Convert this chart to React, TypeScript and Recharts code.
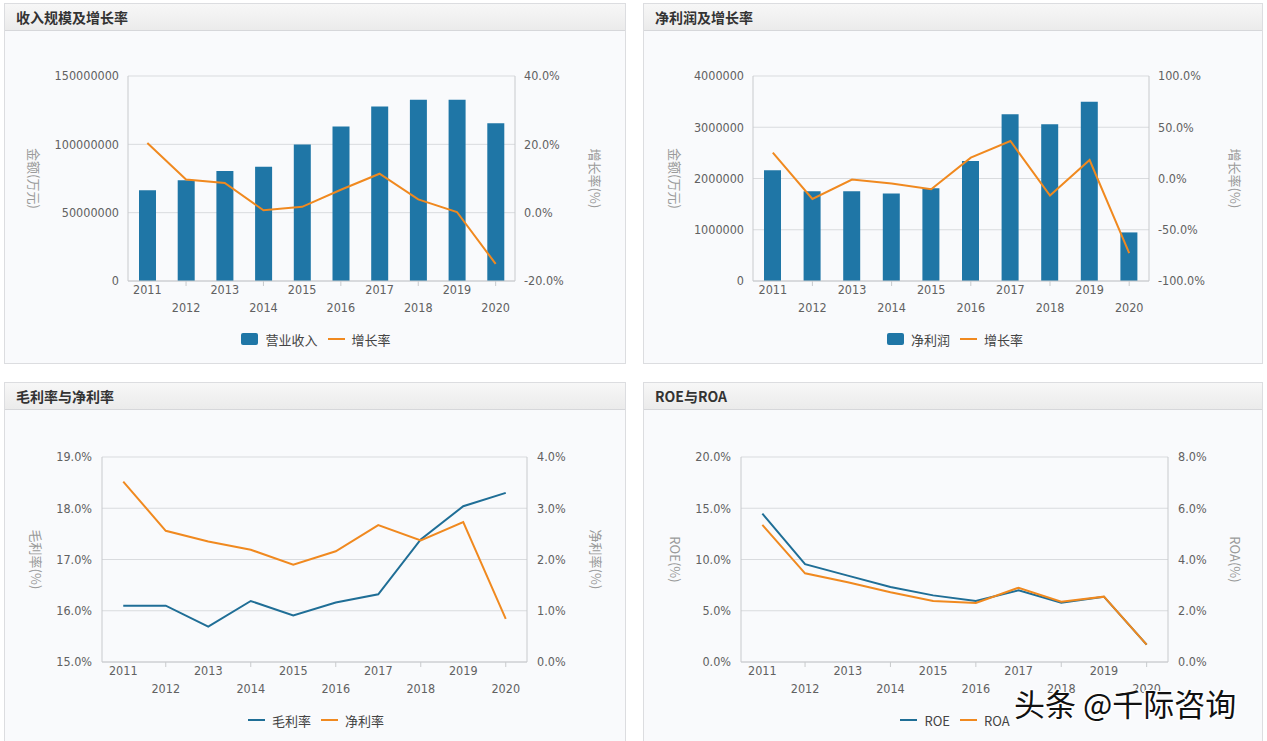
import React from 'react';
import { ComposedChart, Bar, Line, XAxis, YAxis, CartesianGrid, Legend, Label } from 'recharts';

const years = ['2011', '2012', '2013', '2014', '2015', '2016', '2017', '2018', '2019', '2020'];

// 收入规模及增长率
const revenue = [66400000, 73800000, 80400000, 83600000, 99800000, 113000000, 127700000, 132600000, 132600000, 115400000];
const revenueGrowth = [20.4, 9.7, 8.7, 0.7, 1.7, 6.7, 11.4, 3.9, 0.2, -15.0];

// 净利润及增长率
const netProfit = [2163000, 1752000, 1752000, 1706000, 1810000, 2340000, 3255000, 3059000, 3497000, 948000];
const profitGrowth = [25.2, -19.9, -1.0, -4.9, -10.5, 20.3, 36.6, -16.7, 18.0, -72.9];

// 毛利率与净利率
const grossMargin = [16.1, 16.1, 15.69, 16.19, 15.91, 16.16, 16.32, 17.39, 18.04, 18.3];
const netMargin = [3.52, 2.56, 2.35, 2.19, 1.9, 2.16, 2.67, 2.37, 2.73, 0.84];

// ROE与ROA
const roe = [14.48, 9.54, 8.43, 7.32, 6.5, 5.95, 6.99, 5.78, 6.37, 1.7];
const roa = [5.35, 3.46, 3.11, 2.72, 2.38, 2.3, 2.9, 2.35, 2.55, 0.68];

const revenueTicks = [0, 50000000, 100000000, 150000000];
const revenueGrowthTicks = [-20, 0, 20, 40];
const profitTicks = [0, 1000000, 2000000, 3000000, 4000000];
const profitGrowthTicks = [-100, -50, 0, 50, 100];
const grossTicks = [15, 16, 17, 18, 19];
const netMarginTicks = [0, 1, 2, 3, 4];
const roeTicks = [0, 5, 10, 15, 20];
const roaTicks = [0, 2, 4, 6, 8];

const FONT = '"DejaVu Sans Condensed", "DejaVu Sans", "Noto Sans CJK SC", sans-serif';
const CJK = '"Noto Sans CJK SC", "DejaVu Sans", sans-serif';
const BAR = '#1f76a6';
const BLUE = '#1f6e96';
const ORANGE = '#f0891f';
const GRID = '#d9dbde';
const AXIS = '#c8cacd';
const TICK = '#616161';

const pct = (v: number) => `${v.toFixed(1)}%`;

const StaggerTick = (props: any) => {
  const { x, y, payload, index } = props;
  const low = index % 2 === 1;
  return (
    <g>
      {low && <line x1={x} x2={x} y1={y} y2={y + 5} stroke={AXIS} />}
      <text x={x} y={y + (low ? 27 : 9)} dy="0.35em" textAnchor="middle" fill={TICK} fontSize={12.5} fontFamily={FONT}>
        {payload.value}
      </text>
    </g>
  );
};

const sideTitle = (text: string, x: number) => (props: any) => {
  const vb = props.viewBox || {};
  const cy = vb.y + vb.height / 2;
  return (
    <text
      x={x}
      y={cy}
      transform={`rotate(90, ${x}, ${cy})`}
      textAnchor="middle"
      dominantBaseline="central"
      fill="#9a9a9a"
      fontSize={13}
      fontFamily={CJK}
    >
      {text}
    </text>
  );
};

const LegendContent = (props: any) => {
  const { payload = [], order = [] } = props;
  const items = [...payload].sort((a: any, b: any) => order.indexOf(a.dataKey) - order.indexOf(b.dataKey));
  return (
    <div
      style={{
        display: 'flex',
        justifyContent: 'center',
        alignItems: 'center',
        height: 24,
        fontSize: 13,
        color: '#444',
        fontFamily: CJK,
      }}
    >
      {items.map((p: any) => (
        <span key={p.value} style={{ display: 'flex', alignItems: 'center', margin: '0 5px' }}>
          {p.type === 'rect' ? (
            <span style={{ width: 17, height: 12, borderRadius: 2, background: p.color }} />
          ) : (
            <span style={{ width: 17, height: 2, background: p.color }} />
          )}
          <span style={{ marginLeft: 7 }}>{p.value}</span>
        </span>
      ))}
    </div>
  );
};

const Panel = ({ title, left, top, width, height }: any) => (
  <div
    style={{
      position: 'absolute',
      left,
      top,
      width,
      height,
      boxSizing: 'border-box',
      border: '1px solid #dcdde0',
      background: '#f9fafc',
    }}
  >
    <div
      style={{
        height: 27,
        boxSizing: 'border-box',
        borderBottom: '1px solid #d6d7da',
        background: 'linear-gradient(#f7f7f7, #ebebeb)',
        padding: '0 0 0 11px',
        lineHeight: '27px',
        fontSize: 14,
        fontWeight: 'bold',
        color: '#333',
        fontFamily: CJK,
      }}
    >
      {title}
    </div>
  </div>
);

const legendStyle = { left: 162, width: 300 };

const revenueData = years.map((year, i) => ({ year, revenue: revenue[i], growth: revenueGrowth[i] }));
const profitData = years.map((year, i) => ({ year, profit: netProfit[i], growth: profitGrowth[i] }));
const marginData = years.map((year, i) => ({ year, gross: grossMargin[i], net: netMargin[i] }));
const returnData = years.map((year, i) => ({ year, roe: roe[i], roa: roa[i] }));

const xAxisProps = {
  dataKey: 'year',
  interval: 0 as const,
  height: 46,
  tickLine: false,
  tickSize: 0,
  tickMargin: 0,
  stroke: AXIS,
  tick: <StaggerTick />,
  scale: 'band' as const,
};

const yTickStyle = { fill: TICK, fontSize: 12.5, fontFamily: FONT };

export default function App() {
  return (
    <div style={{ position: 'absolute', left: 0, top: 0, width: 1267, height: 741, background: '#fff', overflow: 'hidden' }}>
      <Panel title="收入规模及增长率" left={4} top={3} width={622} height={361} />
      <Panel title="净利润及增长率" left={643} top={3} width={620} height={361} />
      <Panel title="毛利率与净利率" left={4} top={382} width={622} height={370} />
      <Panel title="ROE与ROA" left={643} top={382} width={620} height={370} />

      <div style={{ position: 'absolute', left: 4, top: 31 }}>
        <ComposedChart width={621} height={330} data={revenueData} margin={{ top: 45, right: 30, bottom: 10, left: 44 }} barSize={17}>
          <CartesianGrid yAxisId="l" vertical={false} stroke={GRID} />
          <XAxis {...xAxisProps} />
          <YAxis yAxisId="l" width={80} domain={[0, 150000000]} ticks={revenueTicks} tickLine={false} tickSize={0} tickMargin={9} stroke={AXIS} tick={yTickStyle}>
            <Label content={sideTitle('金额(万元)', 30)} />
          </YAxis>
          <YAxis yAxisId="r" orientation="right" width={80} domain={[-20, 40]} ticks={revenueGrowthTicks} tickFormatter={pct} tickLine={false} tickSize={0} tickMargin={9} stroke={AXIS} tick={yTickStyle}>
            <Label content={sideTitle('增长率(%)', 591)} />
          </YAxis>
          <Legend verticalAlign="bottom" height={24} wrapperStyle={legendStyle} content={<LegendContent order={['revenue', 'growth']} />} />
          <Bar yAxisId="l" dataKey="revenue" name="营业收入" fill={BAR} isAnimationActive={false} />
          <Line yAxisId="r" dataKey="growth" name="增长率" type="linear" stroke={ORANGE} strokeWidth={2} dot={false} activeDot={false} isAnimationActive={false} />
        </ComposedChart>
      </div>

      <div style={{ position: 'absolute', left: 643, top: 31 }}>
        <ComposedChart width={619} height={330} data={profitData} margin={{ top: 45, right: 33, bottom: 10, left: 30 }} barSize={17}>
          <CartesianGrid yAxisId="l" vertical={false} stroke={GRID} />
          <XAxis {...xAxisProps} />
          <YAxis yAxisId="l" width={80} domain={[0, 4000000]} ticks={profitTicks} tickLine={false} tickSize={0} tickMargin={9} stroke={AXIS} tick={yTickStyle}>
            <Label content={sideTitle('金额(万元)', 32)} />
          </YAxis>
          <YAxis yAxisId="r" orientation="right" width={80} domain={[-100, 100]} ticks={profitGrowthTicks} tickFormatter={pct} tickLine={false} tickSize={0} tickMargin={9} stroke={AXIS} tick={yTickStyle}>
            <Label content={sideTitle('增长率(%)', 592)} />
          </YAxis>
          <Legend verticalAlign="bottom" height={24} wrapperStyle={legendStyle} content={<LegendContent order={['profit', 'growth']} />} />
          <Bar yAxisId="l" dataKey="profit" name="净利润" fill={BAR} isAnimationActive={false} />
          <Line yAxisId="r" dataKey="growth" name="增长率" type="linear" stroke={ORANGE} strokeWidth={2} dot={false} activeDot={false} isAnimationActive={false} />
        </ComposedChart>
      </div>

      <div style={{ position: 'absolute', left: 4, top: 411 }}>
        <ComposedChart width={621} height={330} data={marginData} margin={{ top: 46, right: 18, bottom: 9, left: 18 }}>
          <CartesianGrid yAxisId="l" vertical={false} stroke={GRID} />
          <XAxis {...xAxisProps} />
          <YAxis yAxisId="l" width={80} domain={[15, 19]} ticks={grossTicks} tickFormatter={pct} tickLine={false} tickSize={0} tickMargin={10} stroke={AXIS} tick={yTickStyle}>
            <Label content={sideTitle('毛利率(%)', 32)} />
          </YAxis>
          <YAxis yAxisId="r" orientation="right" width={80} domain={[0, 4]} ticks={netMarginTicks} tickFormatter={pct} tickLine={false} tickSize={0} tickMargin={10} stroke={AXIS} tick={yTickStyle}>
            <Label content={sideTitle('净利率(%)', 592)} />
          </YAxis>
          <Legend verticalAlign="bottom" height={24} wrapperStyle={legendStyle} content={<LegendContent order={['gross', 'net']} />} />
          <Line yAxisId="l" dataKey="gross" name="毛利率" type="linear" stroke={BLUE} strokeWidth={2} dot={false} activeDot={false} isAnimationActive={false} />
          <Line yAxisId="r" dataKey="net" name="净利率" type="linear" stroke={ORANGE} strokeWidth={2} dot={false} activeDot={false} isAnimationActive={false} />
        </ComposedChart>
      </div>

      <div style={{ position: 'absolute', left: 643, top: 411 }}>
        <ComposedChart width={619} height={330} data={returnData} margin={{ top: 46, right: 14, bottom: 9, left: 18 }}>
          <CartesianGrid yAxisId="l" vertical={false} stroke={GRID} />
          <XAxis {...xAxisProps} />
          <YAxis yAxisId="l" width={80} domain={[0, 20]} ticks={roeTicks} tickFormatter={pct} tickLine={false} tickSize={0} tickMargin={10} stroke={AXIS} tick={yTickStyle}>
            <Label content={sideTitle('ROE(%)', 32)} />
          </YAxis>
          <YAxis yAxisId="r" orientation="right" width={80} domain={[0, 8]} ticks={roaTicks} tickFormatter={pct} tickLine={false} tickSize={0} tickMargin={10} stroke={AXIS} tick={yTickStyle}>
            <Label content={sideTitle('ROA(%)', 592)} />
          </YAxis>
          <Legend verticalAlign="bottom" height={24} wrapperStyle={legendStyle} content={<LegendContent order={['roe', 'roa']} />} />
          <Line yAxisId="l" dataKey="roe" name="ROE" type="linear" stroke={BLUE} strokeWidth={2} dot={false} activeDot={false} isAnimationActive={false} />
          <Line yAxisId="r" dataKey="roa" name="ROA" type="linear" stroke={ORANGE} strokeWidth={2} dot={false} activeDot={false} isAnimationActive={false} />
        </ComposedChart>
      </div>

      <div
        style={{
          position: 'absolute',
          left: 1014,
          top: 684,
          fontSize: 31,
          fontFamily: CJK,
          color: '#111',
          whiteSpace: 'nowrap',
          lineHeight: '38px',
          textShadow: '1px 1px 0 #fff, -1px -1px 0 #fff, 1px -1px 0 #fff, -1px 1px 0 #fff, 2px 0 0 #fff, -2px 0 0 #fff',
        }}
      >
        头条 @千际咨询
      </div>
    </div>
  );
}
